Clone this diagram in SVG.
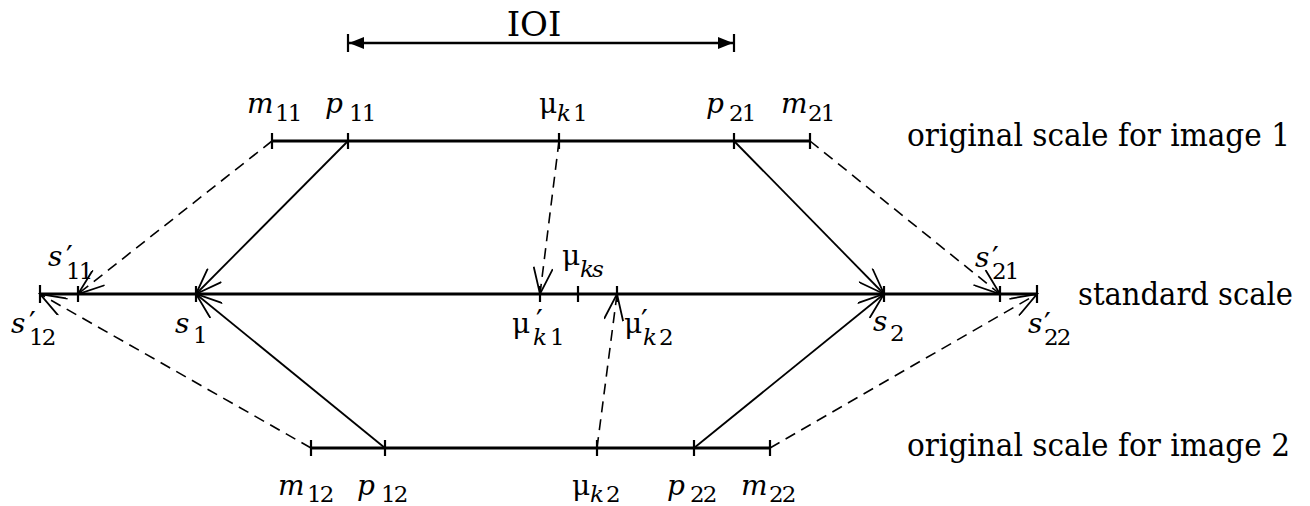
<svg xmlns="http://www.w3.org/2000/svg" width="1310" height="506" viewBox="0 0 1310 506">
<style>
text{fill:#000;font-family:"DejaVu Serif","Liberation Serif",serif}
.lbl{font-size:28px}
.it{font-style:italic}
.sub{font-size:23px;letter-spacing:-2px}
.pr{font-size:30px}
.cap{font-size:31px}
.scale{stroke:#000;stroke-width:3;fill:none}
.tick{stroke:#000;stroke-width:2.2}
.solid{stroke:#000;stroke-width:1.8;fill:none;marker-end:url(#open)}
.dash{stroke:#000;stroke-width:1.6;fill:none;stroke-dasharray:11 7;marker-end:url(#open)}
</style>
<defs>
<marker id="open" markerUnits="userSpaceOnUse" viewBox="0 0 30 20" markerWidth="30" markerHeight="20" refX="28" refY="10" orient="auto">
<path d="M1.7,0.4 L28,10 L1.7,19.6" fill="none" stroke="#000" stroke-width="1.8"/>
</marker>
<marker id="solidhead" markerUnits="userSpaceOnUse" viewBox="0 0 16 12" markerWidth="16" markerHeight="12" refX="15" refY="6" orient="auto-start-reverse">
<path d="M0,0 L15,6 L0,12 z" fill="#000"/>
</marker>
</defs>
<rect width="1310" height="506" fill="#fff"/>

<g id="ioi">
<line x1="349" y1="43" x2="733" y2="43" stroke="#000" stroke-width="2.5" marker-start="url(#solidhead)" marker-end="url(#solidhead)"/>
<line x1="348" y1="34" x2="348" y2="52" class="tick"/>
<line x1="734" y1="34" x2="734" y2="52" class="tick"/>
<text x="534" y="36" text-anchor="middle" font-size="34">IOI</text>
</g>

<g id="scale-image1">
<line x1="272" y1="141" x2="810" y2="141" class="scale"/>
<text x="907" y="146" class="cap" textLength="383" lengthAdjust="spacingAndGlyphs">original scale for image 1</text>
</g>
<g id="scale-standard">
<line x1="40" y1="294" x2="1037" y2="294" class="scale"/>
<text x="1078" y="305" class="cap" textLength="215" lengthAdjust="spacingAndGlyphs">standard scale</text>
</g>
<g id="scale-image2">
<line x1="311" y1="448" x2="770" y2="448" class="scale"/>
<text x="907" y="456" class="cap" textLength="383" lengthAdjust="spacingAndGlyphs">original scale for image 2</text>
</g>

<g id="m11"><line x1="272" y1="133" x2="272" y2="149" class="tick"/>
<text class="lbl"><tspan x="247" y="113" class="it">m</tspan><tspan x="275" y="121" class="sub">11</tspan></text></g>
<g id="p11"><line x1="348" y1="133" x2="348" y2="149" class="tick"/>
<text class="lbl"><tspan x="325" y="113" class="it">p</tspan><tspan x="349" y="121" class="sub">11</tspan></text></g>
<g id="mu_k1"><line x1="559" y1="133" x2="559" y2="149" class="tick"/>
<text class="lbl"><tspan x="539" y="113">μ</tspan><tspan x="557" y="121" class="sub it">k</tspan><tspan x="573" y="121" class="sub">1</tspan></text></g>
<g id="p21"><line x1="734" y1="133" x2="734" y2="149" class="tick"/>
<text class="lbl"><tspan x="706" y="113" class="it">p</tspan><tspan x="729" y="121" class="sub">21</tspan></text></g>
<g id="m21"><line x1="810" y1="133" x2="810" y2="149" class="tick"/>
<text class="lbl"><tspan x="781" y="113" class="it">m</tspan><tspan x="808" y="121" class="sub">21</tspan></text></g>

<g id="s12p"><line x1="40" y1="285" x2="40" y2="303" class="tick"/>
<text class="lbl"><tspan x="11" y="333" class="it">s</tspan><tspan x="29" y="333" class="pr">′</tspan><tspan x="29" y="345" class="sub">12</tspan></text></g>
<g id="s11p"><line x1="78" y1="286" x2="78" y2="302" class="tick"/>
<text class="lbl"><tspan x="48" y="266" class="it">s</tspan><tspan x="66" y="267" class="pr">′</tspan><tspan x="66" y="279" class="sub">11</tspan></text></g>
<g id="s1"><line x1="196" y1="286" x2="196" y2="302" class="tick"/>
<text class="lbl"><tspan x="175" y="333" class="it">s</tspan><tspan x="193" y="343" class="sub">1</tspan></text></g>
<g id="mu_k1p"><line x1="540" y1="286" x2="540" y2="302" class="tick"/>
<text class="lbl"><tspan x="512" y="333">μ</tspan><tspan x="536" y="331" class="pr">′</tspan><tspan x="533" y="345" class="sub it">k</tspan><tspan x="550" y="345" class="sub">1</tspan></text></g>
<g id="mu_ks"><line x1="578" y1="286" x2="578" y2="302" class="tick"/>
<text class="lbl"><tspan x="562" y="265">μ</tspan><tspan x="580" y="277" class="sub it">ks</tspan></text></g>
<g id="mu_k2p"><line x1="617" y1="286" x2="617" y2="302" class="tick"/>
<text class="lbl"><tspan x="624" y="333">μ</tspan><tspan x="641" y="331" class="pr">′</tspan><tspan x="643" y="345" class="sub it">k</tspan><tspan x="659" y="345" class="sub">2</tspan></text></g>
<g id="s2"><line x1="884" y1="286" x2="884" y2="302" class="tick"/>
<text class="lbl"><tspan x="873" y="331" class="it">s</tspan><tspan x="890" y="341" class="sub">2</tspan></text></g>
<g id="s21p"><line x1="1000" y1="286" x2="1000" y2="302" class="tick"/>
<text class="lbl"><tspan x="975" y="267" class="it">s</tspan><tspan x="992" y="268" class="pr">′</tspan><tspan x="992" y="279" class="sub">21</tspan></text></g>
<g id="s22p"><line x1="1037" y1="285" x2="1037" y2="303" class="tick"/>
<text class="lbl"><tspan x="1028" y="333" class="it">s</tspan><tspan x="1044" y="334" class="pr">′</tspan><tspan x="1044" y="345" class="sub">22</tspan></text></g>

<g id="m12"><line x1="311" y1="440" x2="311" y2="456" class="tick"/>
<text class="lbl"><tspan x="278" y="495" class="it">m</tspan><tspan x="307" y="502" class="sub">12</tspan></text></g>
<g id="p12"><line x1="385" y1="440" x2="385" y2="456" class="tick"/>
<text class="lbl"><tspan x="357" y="495" class="it">p</tspan><tspan x="381" y="502" class="sub">12</tspan></text></g>
<g id="mu_k2"><line x1="597" y1="440" x2="597" y2="456" class="tick"/>
<text class="lbl"><tspan x="572" y="495">μ</tspan><tspan x="590" y="502" class="sub it">k</tspan><tspan x="606" y="502" class="sub">2</tspan></text></g>
<g id="p22"><line x1="694" y1="440" x2="694" y2="456" class="tick"/>
<text class="lbl"><tspan x="667" y="495" class="it">p</tspan><tspan x="690" y="502" class="sub">22</tspan></text></g>
<g id="m22"><line x1="770" y1="440" x2="770" y2="456" class="tick"/>
<text class="lbl"><tspan x="741" y="495" class="it">m</tspan><tspan x="769" y="502" class="sub">22</tspan></text></g>

<g id="connectors">
<line x1="348" y1="141" x2="196" y2="294" class="solid"/>
<line x1="272" y1="141" x2="78" y2="294" class="dash"/>
<line x1="559" y1="141" x2="540" y2="294" class="dash"/>
<line x1="734" y1="141" x2="884" y2="294" class="solid"/>
<line x1="810" y1="141" x2="1000" y2="294" class="dash"/>
<line x1="385" y1="448" x2="196" y2="294" class="solid"/>
<line x1="311" y1="448" x2="40" y2="294" class="dash"/>
<line x1="597" y1="448" x2="617" y2="294" class="dash"/>
<line x1="694" y1="448" x2="884" y2="294" class="solid"/>
<line x1="770" y1="448" x2="1037" y2="294" class="dash"/>
</g>
</svg>
